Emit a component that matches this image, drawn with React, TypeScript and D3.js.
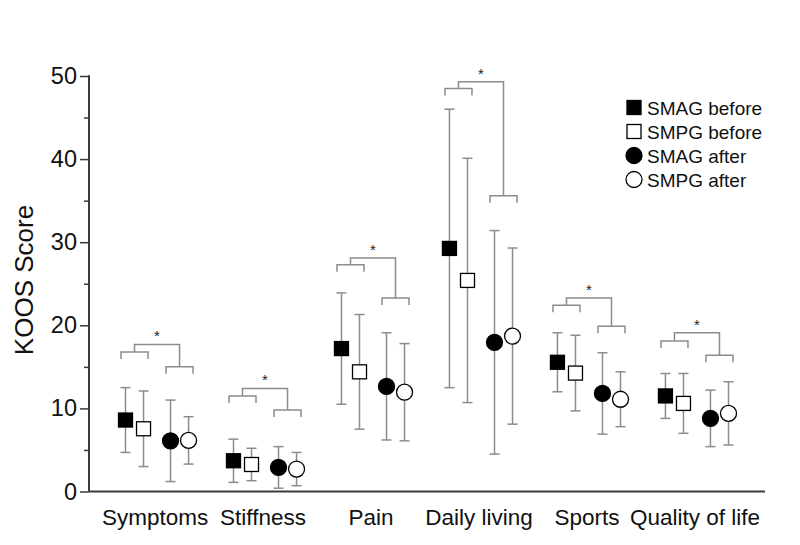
import React, { useEffect, useRef } from 'react';
import * as d3 from 'd3';

// categories on the x axis
const categories = ['Symptoms', 'Stiffness', 'Pain', 'Daily living', 'Sports', 'Quality of life'];

// series names (legend)
const seriesNames = ['SMAG before', 'SMPG before', 'SMAG after', 'SMPG after'];

// mean values per series
const smagBefore = [8.6, 3.7, 17.2, 29.25, 15.55, 11.5];
const smpgBefore = [7.55, 3.25, 14.4, 25.4, 14.25, 10.6];
const smagAfter = [6.1, 2.9, 12.65, 17.95, 11.8, 8.8];
const smpgAfter = [6.15, 2.7, 11.95, 18.7, 11.1, 9.4];

// standard deviations per series
const smagBeforeSd = [3.9, 2.6, 6.7, 16.75, 3.55, 2.7];
const smpgBeforeSd = [4.55, 1.95, 6.9, 14.7, 4.55, 3.6];
const smagAfterSd = [4.9, 2.5, 6.45, 13.45, 4.9, 3.4];
const smpgAfterSd = [2.85, 2.0, 5.85, 10.6, 3.3, 3.8];

// significance bracket levels (score units)
const beforeBracket = [16.8, 11.5, 27.3, 48.5, 22.4, 18.1];
const afterBracket = [15.0, 9.8, 23.3, 35.6, 19.9, 16.4];
const topBracket = [17.7, 12.4, 28.1, 49.3, 23.3, 19.1];

const yTicks = [0, 10, 20, 30, 40, 50];
const yMinorTicks = [5, 15, 25, 35, 45];

function App() {
  const ref = useRef<SVGSVGElement>(null);

  useEffect(() => {
    const svg = d3.select(ref.current);
    svg.selectAll('*').remove();

    const font = 'Arial, "Liberation Sans", Helvetica, sans-serif';
    const grey = '#8c8c8c';
    const axisColor = '#3a3a3a';

    const x = d3.scaleLinear().domain([-0.63, 5.63]).range([89, 765]);
    const y = d3.scaleLinear().domain([0, 50]).range([491.5, 76]);
    // offset of each series inside a category (in category units)
    const offset = d3.scaleOrdinal<string, number>()
      .domain(seriesNames)
      .range([-0.292, -0.125, 0.125, 0.292]);

    const means = [smagBefore, smpgBefore, smagAfter, smpgAfter];
    const sds = [smagBeforeSd, smpgBeforeSd, smagAfterSd, smpgAfterSd];

    // Y axis: minor ticks, then major ticks with labels
    const yMinor = svg.append('g').attr('transform', `translate(${x(-0.63)},0)`);
    yMinor.call(d3.axisLeft(y).tickValues(yMinorTicks).tickSize(5).tickFormat(() => ''));
    const yAxis = svg.append('g').attr('transform', `translate(${x(-0.63)},0)`);
    yAxis.call(
      d3.axisLeft(y).tickValues(yTicks).tickSize(9).tickPadding(3).tickFormat(d3.format('d'))
    );
    [yMinor, yAxis].forEach(g => {
      g.selectAll('.domain').remove();
      g.selectAll('line').attr('stroke', axisColor).attr('stroke-width', 1.5);
    });
    yAxis.selectAll('text')
      .attr('font-family', font)
      .attr('font-size', 23.5)
      .attr('fill', '#111');
    yAxis.append('line')
      .attr('x1', 0).attr('x2', 0)
      .attr('y1', y(50) - 0.75).attr('y2', y(0))
      .attr('stroke', axisColor).attr('stroke-width', 2);

    // X axis line
    svg.append('line')
      .attr('x1', x(-0.63)).attr('x2', x(5.63))
      .attr('y1', y(0)).attr('y2', y(0))
      .attr('stroke', axisColor).attr('stroke-width', 2);

    // category labels
    svg.append('g').selectAll('text')
      .data(categories)
      .enter().append('text')
      .attr('x', (d, i) => x(i) - 2)
      .attr('y', 525)
      .attr('text-anchor', 'middle')
      .attr('font-family', font)
      .attr('font-size', 22.5)
      .attr('fill', '#111')
      .text(d => d);

    // Y title
    svg.append('text')
      .attr('transform', `translate(33,280) rotate(-90)`)
      .attr('text-anchor', 'middle')
      .attr('font-family', font)
      .attr('font-size', 26)
      .attr('fill', '#111')
      .text('KOOS Score');

    // significance brackets
    const tip = 7;
    const half = 0.125; // half width of the pair brackets
    const br = svg.append('g')
      .attr('fill', 'none')
      .attr('stroke', grey)
      .attr('stroke-width', 1.5);
    categories.forEach((c, i) => {
      const lc = i - 0.2085;
      const rc = i + 0.2085;
      const yl = y(beforeBracket[i]);
      const yr = y(afterBracket[i]);
      const yt = y(topBracket[i]);
      br.append('path')
        .attr('d', `M${x(lc - half)},${yl + tip}V${yl}H${x(lc + half)}V${yl + tip}`);
      br.append('path')
        .attr('d', `M${x(rc - half)},${yr + tip}V${yr}H${x(rc + half)}V${yr + tip}`);
      br.append('path')
        .attr('d', `M${x(lc)},${yl}V${yt}H${x(rc)}V${yr}`);
      svg.append('text')
        .attr('x', x(i))
        .attr('y', yt - 3)
        .attr('text-anchor', 'middle')
        .attr('font-family', font)
        .attr('font-size', 15)
        .attr('fill', '#222')
        .text('*');
    });

    // error bars
    const cap = 5;
    seriesNames.forEach((s, k) => {
      const g = svg.append('g').attr('stroke', grey).attr('stroke-width', 1.5);
      categories.forEach((c, i) => {
        const cx = x(i + offset(s));
        const top = y(means[k][i] + sds[k][i]);
        const bot = y(means[k][i] - sds[k][i]);
        g.append('line').attr('x1', cx).attr('x2', cx).attr('y1', top).attr('y2', bot);
        g.append('line').attr('x1', cx - cap).attr('x2', cx + cap).attr('y1', top).attr('y2', top);
        g.append('line').attr('x1', cx - cap).attr('x2', cx + cap).attr('y1', bot).attr('y2', bot);
      });
    });

    // markers
    const drawMarker = (
      g: d3.Selection<SVGGElement, unknown, null, undefined>,
      k: number, cx: number, cy: number, size: number
    ) => {
      const filled = k % 2 === 0;
      if (k < 2) {
        g.append('rect')
          .attr('x', cx - size / 2).attr('y', cy - size / 2)
          .attr('width', size).attr('height', size)
          .attr('fill', filled ? '#000' : '#fff')
          .attr('stroke', '#000').attr('stroke-width', 1.3);
      } else {
        g.append('circle')
          .attr('cx', cx).attr('cy', cy).attr('r', size / 2 + 1)
          .attr('fill', filled ? '#000' : '#fff')
          .attr('stroke', '#000').attr('stroke-width', 1.3);
      }
    };

    const marks = svg.append('g');
    seriesNames.forEach((s, k) => {
      categories.forEach((c, i) => {
        drawMarker(marks, k, x(i + offset(s)), y(means[k][i]), 14);
      });
    });

    // legend
    const legend = svg.append('g');
    seriesNames.forEach((s, k) => {
      const ly = 107.5 + k * 24;
      drawMarker(legend, k, 634, ly, 14);
      legend.append('text')
        .attr('x', 647)
        .attr('y', ly + 7)
        .attr('font-family', font)
        .attr('font-size', 19)
        .attr('fill', '#111')
        .text(s);
    });
  }, []);

  return (
    <svg
      ref={ref}
      width={800}
      height={545}
      style={{ position: 'absolute', left: 0, top: 0, background: '#fff' }}
    />
  );
}

export default App;
